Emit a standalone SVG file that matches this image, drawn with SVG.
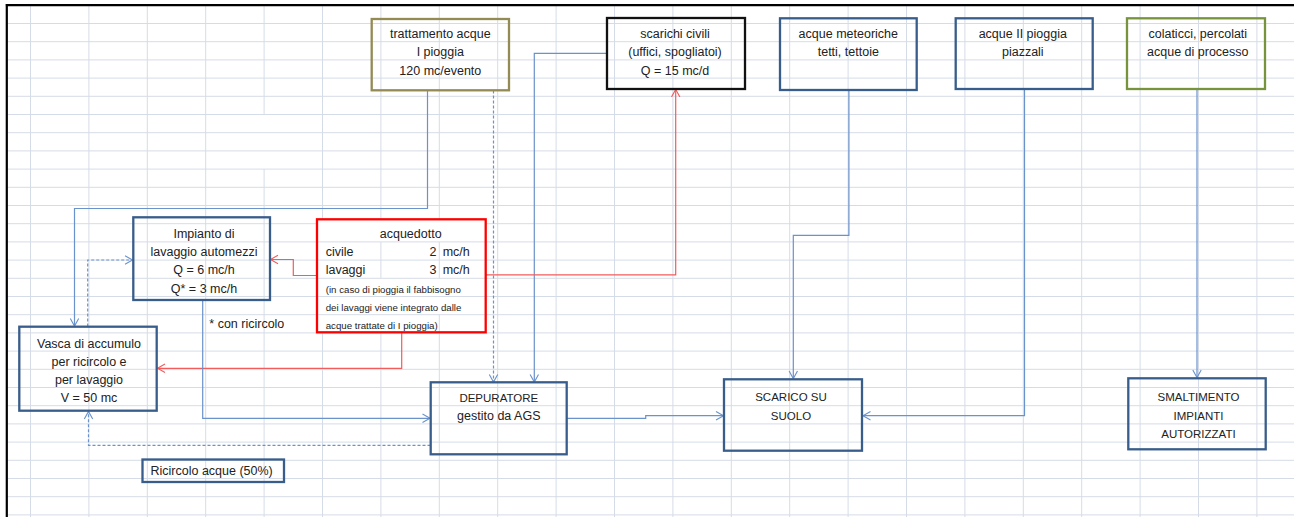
<svg xmlns="http://www.w3.org/2000/svg" width="1294" height="517" viewBox="0 0 1294 517">
<style>
.grid{stroke:#D6DCE7;stroke-width:1;fill:none}
.box{fill:none;stroke-width:2.3}
.blue{stroke:#385D8A}
.t{font-family:"Liberation Sans",Arial,sans-serif;font-size:12.5px;fill:#222}
.c{text-anchor:middle}
.e{text-anchor:end}
.caps{font-size:11.5px}
.s{font-size:9.7px}
#connectors path{fill:none;stroke:#6A92CB;stroke-width:1.2}
#connectors path.red{stroke:#F25C5C}
#connectors path.dash{stroke-dasharray:3 2}
</style>
<defs>
<marker id="ab" markerUnits="userSpaceOnUse" markerWidth="12" markerHeight="12" refX="9" refY="6" orient="auto"><path d="M1.5,1.8 L9,6 L1.5,10.2" fill="none" stroke="#6A92CB" stroke-width="1.1"/></marker>
<marker id="ar" markerUnits="userSpaceOnUse" markerWidth="12" markerHeight="12" refX="9" refY="6" orient="auto"><path d="M1.5,1.8 L9,6 L1.5,10.2" fill="none" stroke="#F25C5C" stroke-width="1.1"/></marker>
</defs>
<rect x="0" y="0" width="1294" height="517" fill="#FFFFFF"/>
<g id="grid">
<path class="grid" d="M30.5,5V517 M88.9,5V517 M147.3,5V517 M205.7,5V517 M264.1,5V114.5 M264.1,169.1V517 M322.5,5V517 M380.9,5V517 M439.3,5V517 M497.7,5V517 M556.1,5V517 M614.5,5V517 M672.9,5V517 M731.3,5V517 M789.7,5V517 M848.1,5V517 M906.5,5V517 M964.9,5V517 M1023.3,5V517 M1081.7,5V517 M1140.1,5V517 M1198.5,5V517 M1256.9,5V517"/>
<path class="grid" d="M6,23.5H1294 M6,41.7H1294 M6,59.9H1294 M6,78.1H1294 M6,96.3H1294 M6,114.5H1294 M6,132.7H1294 M6,150.9H1294 M6,169.1H1294 M6,187.3H1294 M6,205.5H1294 M6,223.7H1294 M6,241.9H1294 M6,260.1H1294 M6,278.3H1294 M6,296.5H1294 M6,314.7H1294 M6,332.9H1294 M6,351.1H1294 M6,369.3H1294 M6,387.5H1294 M6,405.7H1294 M6,423.9H1294 M6,442.1H1294 M6,460.3H1294 M6,478.5H1294 M6,496.7H1294 M6,514.9H1294"/>
</g>
<path d="M6.8,4V517 M5.6,5.2H1294" fill="none" stroke="#000" stroke-width="2.2"/>

<g id="connectors">
<path d="M427.5,90.5V208.5H74.5V326" marker-end="url(#ab)"/>
<path class="dash" d="M493.5,90.5V382" marker-end="url(#ab)"/>
<path d="M607,53.3H534.3V382" marker-end="url(#ab)"/>
<path class="red" d="M485.7,274.8H675.7V89.5" marker-end="url(#ar)"/>
<path class="red" d="M317,275.5H293.3V259.5H270.5" marker-end="url(#ar)"/>
<path class="red" d="M401.7,332.3V368.3H157.5" marker-end="url(#ar)"/>
<path d="M202.7,300.5V418.3H430" marker-end="url(#ab)"/>
<path class="dash" d="M430.5,445.3H88.5V411.5" marker-end="url(#ab)"/>
<path class="dash" d="M87.7,326.5V260H132.5" marker-end="url(#ab)"/>
<path d="M566.7,418.3H645.7V415.7H723.5" marker-end="url(#ab)"/>
<path d="M848.9,90V235.3H793.3V378.5" marker-end="url(#ab)"/>
<path d="M1024.5,89V415.7H863" marker-end="url(#ab)"/>
<path d="M1197,89V377.5" marker-end="url(#ab)"/>
</g>

<g id="trattamento">
<rect class="box" x="371.7" y="19" width="137.3" height="71.3" stroke="#948A54"/>
<text class="t c" x="440.3" y="38">trattamento acque</text>
<text class="t c" x="440.3" y="56.3">I pioggia</text>
<text class="t c" x="440.3" y="74.6">120 mc/evento</text>
</g>
<g id="scarichi">
<rect class="box" x="607" y="18" width="138" height="71" stroke="#111" stroke-width="2.6"/>
<text class="t c" x="675" y="38">scarichi civili</text>
<text class="t c" x="675" y="56.3">(uffici, spogliatoi)</text>
<text class="t c" x="675" y="74.6">Q = 15 mc/d</text>
</g>
<g id="meteoriche">
<rect class="box blue" x="780" y="18.3" width="136.7" height="71.7"/>
<text class="t c" x="848.3" y="38">acque meteoriche</text>
<text class="t c" x="848.3" y="56.3">tetti, tettoie</text>
</g>
<g id="piazzali">
<rect class="box blue" x="955.7" y="18.3" width="137" height="70.7"/>
<text class="t c" x="1022.8" y="38">acque II pioggia</text>
<text class="t c" x="1022.8" y="56.3">piazzali</text>
</g>
<g id="colaticci">
<rect class="box" x="1127" y="18.3" width="138" height="70.7" stroke="#77933C"/>
<text class="t c" x="1197.8" y="38">colaticci, percolati</text>
<text class="t c" x="1197.8" y="56.3">acque di processo</text>
</g>
<g id="impianto">
<rect class="box blue" x="133.3" y="217.3" width="136.7" height="82.7"/>
<text class="t c" x="204" y="238">Impianto di</text>
<text class="t c" x="204" y="256.3">lavaggio automezzi</text>
<text class="t c" x="204" y="274.4">Q = 6 mc/h</text>
<text class="t c" x="204" y="292.5">Q* = 3 mc/h</text>
</g>
<g id="vasca">
<rect class="box blue" x="19.3" y="326.7" width="137.4" height="84"/>
<text class="t c" x="89" y="347.5">Vasca di accumulo</text>
<text class="t c" x="89" y="365.7">per ricircolo e</text>
<text class="t c" x="89" y="384">per lavaggio</text>
<text class="t c" x="89" y="402">V = 50 mc</text>
</g>
<g id="acquedotto">
<rect x="317" y="219.3" width="168.7" height="113" fill="#FFFFFF"/>
<path class="grid" d="M317,241.9H485.7 M317,260.1H485.7 M317,278.3H485.7 M317,296.5H485.7 M317,314.7H485.7 M380.9,241.9V278.3 M439.3,241.9V278.3 M439.3,314.7V332.3"/>
<rect class="box" x="317" y="219.3" width="168.7" height="113" stroke="#FF0000" stroke-width="2.6"/>
<text class="t c" x="410.7" y="238">acquedotto</text>
<text class="t" x="325.7" y="256.2">civile</text>
<text class="t e" x="436.5" y="256.2">2</text>
<text class="t" x="442.7" y="256.2">mc/h</text>
<text class="t" x="325.7" y="274.4">lavaggi</text>
<text class="t e" x="436.5" y="274.4">3</text>
<text class="t" x="442.7" y="274.4">mc/h</text>
<text class="t s" x="325.7" y="292.6">(in caso di pioggia il fabbisogno</text>
<text class="t s" x="325.7" y="310.8">dei lavaggi viene integrato dalle</text>
<text class="t s" x="325.7" y="329">acque trattate di I pioggia)</text>
</g>
<g id="nota">
<text class="t" x="209.3" y="328">* con ricircolo</text>
</g>
<g id="depuratore">
<rect class="box blue" x="430.7" y="382.3" width="136" height="72"/>
<text class="t c caps" x="498.8" y="402.3">DEPURATORE</text>
<text class="t c" x="498.8" y="420.3">gestito da AGS</text>
</g>
<g id="scarico">
<rect class="box blue" x="724" y="379.3" width="138" height="71.4"/>
<text class="t c caps" x="791" y="401.4">SCARICO SU</text>
<text class="t c caps" x="791" y="419.6">SUOLO</text>
</g>
<g id="smaltimento">
<rect class="box blue" x="1128.3" y="378.3" width="137.4" height="71"/>
<text class="t c caps" x="1198.5" y="401.4">SMALTIMENTO</text>
<text class="t c caps" x="1198.5" y="419.6">IMPIANTI</text>
<text class="t c caps" x="1198.5" y="437.6">AUTORIZZATI</text>
</g>
<g id="ricircolo">
<rect class="box blue" x="142.5" y="459.5" width="141.5" height="22.5"/>
<text class="t" x="150.5" y="474.5">Ricircolo acque (50%)</text>
</g>
</svg>
